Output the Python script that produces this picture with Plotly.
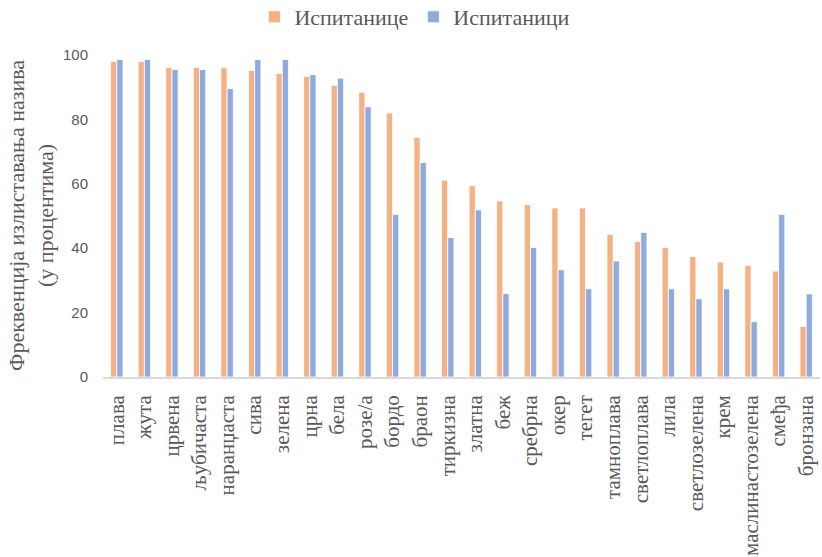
import plotly.graph_objects as go

categories = ["плава", "жута", "црвена", "љубичаста", "наранџаста", "сива", "зелена", "црна", "бела",
              "розе/а", "бордо", "браон", "тиркизна", "златна", "беж", "сребрна", "окер", "тегет",
              "тамноплава", "светлоплава", "лила", "светлозелена", "крем", "маслинастозелена", "смеђа", "бронзана"]
female = [98.0, 98.0, 96.1, 96.1, 96.1, 95.2, 94.3, 93.4, 90.6,
          88.4, 82.0, 74.4, 61.1, 59.4, 54.7, 53.5, 52.5, 52.5,
          44.3, 42.1, 40.2, 37.4, 35.7, 34.7, 32.9, 15.7]
male = [98.6, 98.6, 95.5, 95.5, 89.6, 98.6, 98.6, 93.9, 92.8,
        83.9, 50.5, 66.6, 43.3, 51.9, 25.9, 40.2, 33.3, 27.4,
        36.0, 44.9, 27.4, 24.3, 27.4, 17.2, 50.5, 25.8]
y_ticks = [0, 20, 40, 60, 80, 100]

serif = "Liberation Serif, Times New Roman, serif"
gray = "#595959"

fig = go.Figure()
fig.add_trace(go.Bar(name="Испитанице", x=categories, y=female,
                     marker=dict(color="#F4B183", line=dict(color="white", width=0.8))))
fig.add_trace(go.Bar(name="Испитаници", x=categories, y=male,
                     marker=dict(color="#8FAADC", line=dict(color="white", width=0.8))))

fig.update_layout(
    width=822, height=557,
    margin=dict(l=103, r=2, t=55, b=180, autoexpand=False),
    plot_bgcolor="white", paper_bgcolor="white",
    barmode="group", bargap=0.55, bargroupgap=0.0,
    legend=dict(orientation="h", x=0.435, xanchor="center", y=1.118, yanchor="middle",
                font=dict(family=serif, size=22, color=gray), itemwidth=30, traceorder="normal"),
    xaxis=dict(tickangle=-90, tickfont=dict(family=serif, size=21, color=gray),
               showline=True, linecolor="#d9d9d9", linewidth=1.5, ticks="",
               showgrid=False, ticklabelstandoff=8, automargin=False),
    yaxis=dict(range=[0, 100], tickvals=y_ticks, showgrid=False, zeroline=False, showline=False,
               tickfont=dict(family="Liberation Sans, Arial, sans-serif", size=15, color=gray),
               ticklabelstandoff=14, automargin=False),
    annotations=[dict(text="Фреквенција излиставања назива<br>(у процентима)", textangle=-90,
                      xref="paper", yref="paper", x=0, y=0.5, xshift=-72, xanchor="center", yanchor="middle",
                      showarrow=False, font=dict(family=serif, size=22, color=gray))],
)

fig.write_html("out.html")
